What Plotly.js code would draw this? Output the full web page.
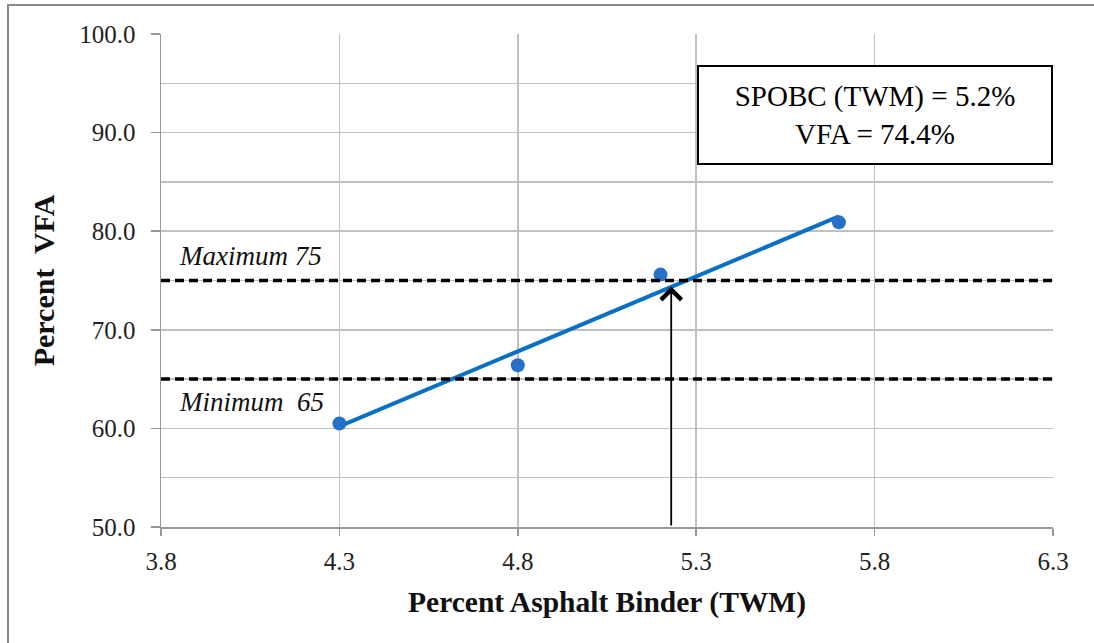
<!DOCTYPE html>
<html>
<head>
<meta charset="utf-8">
<script src="https://cdn.plot.ly/plotly-3.0.1.min.js"></script>
<style>
  html, body { margin: 0; padding: 0; background: #ffffff; }
  #wrap { position: relative; width: 1094px; height: 643px; overflow: hidden; }
  #chart { position: absolute; left: 0; top: 0; width: 1094px; height: 643px; }
  #frame { position: absolute; left: 7px; top: 4px; width: 1100px; height: 637px;
           border-left: 2px solid #8a8a8a; border-top: 2px solid #8a8a8a;
           border-bottom: 1px solid #e2e2e2; pointer-events: none; }
</style>
</head>
<body>
<div id="wrap">
  <div id="chart"></div>
  <div id="frame"></div>
</div>
<script>
// ---- data ----
const binderPct = [4.3, 4.8, 5.2, 5.7];        // Percent Asphalt Binder (TWM)
const vfaPct    = [60.5, 66.4, 75.6, 80.9];     // Percent VFA
const limitValues = [75, 65];
const limitLabels = ['Maximum 75', 'Minimum  65'];
const optimumBinder = 5.23;                     // arrow position
const optimumVFA = 74.4;
const boxText = ['SPOBC (TWM) = 5.2%', 'VFA = 74.4%'];
const xTitle = 'Percent Asphalt Binder (TWM)';
const yTitle = 'Percent  VFA';

// ---- linear trendline (least squares) from the data ----
const n = binderPct.length;
const mx = binderPct.reduce((a, b) => a + b, 0) / n;
const my = vfaPct.reduce((a, b) => a + b, 0) / n;
let sxy = 0, sxx = 0;
for (let i = 0; i < n; i++) {
  sxy += (binderPct[i] - mx) * (vfaPct[i] - my);
  sxx += (binderPct[i] - mx) ** 2;
}
const slope = sxy / sxx;
const intercept = my - slope * mx;
const trendX = [Math.min(...binderPct), Math.max(...binderPct)];
const trendY = trendX.map(x => intercept + slope * x);

const serif = 'Liberation Serif, Times New Roman, serif';
const gridCol = '#c0c0c0';
const axisCol = '#979797';

const traces = [
  {
    x: trendX, y: trendY, type: 'scatter', mode: 'lines',
    line: { color: '#0a70c4', width: 4 }, hoverinfo: 'skip', showlegend: false
  },
  {
    x: binderPct, y: vfaPct, type: 'scatter', mode: 'markers',
    marker: { color: '#2770c8', size: 14 }, showlegend: false
  }
];

const shapes = limitValues.map(v => ({
  type: 'line', xref: 'paper', x0: 0, x1: 1, yref: 'y', y0: v, y1: v,
  line: { color: '#000000', width: 3.5, dash: '9px,5px' }
}));

const annotations = [
  {
    xref: 'x', yref: 'y', x: 3.8, y: limitValues[0], text: limitLabels[0],
    showarrow: false, xanchor: 'left', yanchor: 'bottom', xshift: 16, yshift: 8,
    font: { family: serif, size: 27, color: '#111111', style: 'italic' }
  },
  {
    xref: 'x', yref: 'y', x: 3.8, y: limitValues[1], text: limitLabels[1],
    showarrow: false, xanchor: 'left', yanchor: 'top', xshift: 16, yshift: -6,
    font: { family: serif, size: 27, color: '#111111', style: 'italic' }
  },
  {
    xref: 'x', yref: 'y', x: optimumBinder, y: optimumVFA,
    axref: 'x', ayref: 'y', ax: optimumBinder, ay: 50,
    text: '', showarrow: true, arrowhead: 4, arrowsize: 2.2, arrowwidth: 1.8,
    arrowcolor: '#000000', standoff: 0
  },
  {
    xref: 'paper', yref: 'paper', x: 1, y: 0.937, xanchor: 'right', yanchor: 'top',
    text: boxText.join('<br>'), showarrow: false, align: 'center',
    width: 350, height: 94, borderpad: 1, bordercolor: '#000000', borderwidth: 2,
    bgcolor: '#ffffff', valign: 'middle',
    font: { family: serif, size: 29, color: '#000000' }
  }
];

const layout = {
  width: 1094, height: 643,
  margin: { l: 161, r: 41, t: 34, b: 116, pad: 0 },
  paper_bgcolor: '#ffffff', plot_bgcolor: '#ffffff',
  showlegend: false,
  xaxis: {
    range: [3.8, 6.3], tick0: 3.8, dtick: 0.5, tickformat: '.1f',
    showgrid: true, gridcolor: gridCol, gridwidth: 1.5,
    zeroline: false, showline: true, linecolor: axisCol, linewidth: 1.5,
    ticks: 'outside', ticklen: 7, tickcolor: axisCol, tickwidth: 1.5,
    ticklabelstandoff: 4,
    tickfont: { family: serif, size: 25, color: '#222222' },
    title: { text: '<b>' + xTitle + '</b>', standoff: 18,
             font: { family: serif, size: 29.5, color: '#111111' } }
  },
  yaxis: {
    range: [50, 100], tick0: 50, dtick: 10, tickformat: '.1f',
    showgrid: true, gridcolor: gridCol, gridwidth: 1.5,
    minor: { dtick: 5, showgrid: true, gridcolor: gridCol, gridwidth: 1.5, ticks: '' },
    zeroline: false, showline: true, linecolor: axisCol, linewidth: 1.5,
    ticks: 'outside', ticklen: 9, tickcolor: axisCol, tickwidth: 1.5,
    ticklabelstandoff: 10,
    tickfont: { family: serif, size: 25, color: '#222222' },
    title: { text: '<b>' + yTitle + '</b>', standoff: 16,
             font: { family: serif, size: 30, color: '#111111' } }
  },
  shapes: shapes,
  annotations: annotations
};

Plotly.newPlot('chart', traces, layout, { displayModeBar: false, staticPlot: true });
</script>
</body>
</html>
